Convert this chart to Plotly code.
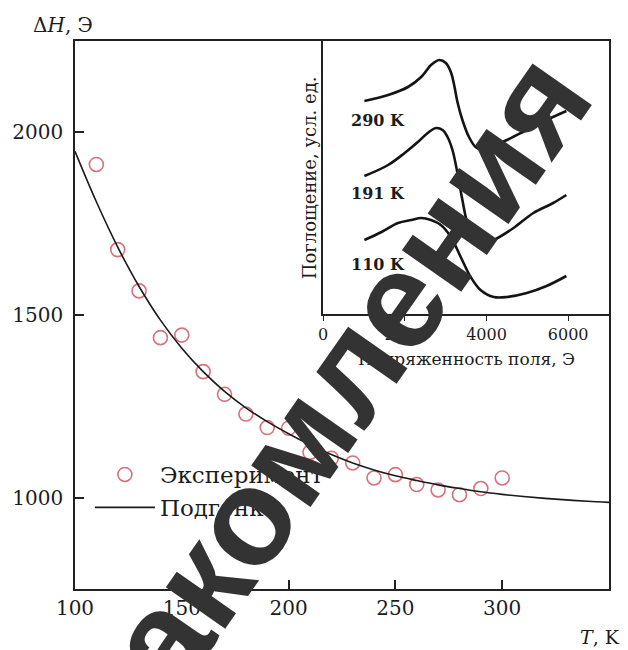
import plotly.graph_objects as go

# ---- main data ----
T_exp = [110, 120, 130, 140, 150, 160, 170, 180, 190, 200,
         210, 220, 230, 240, 250, 260, 270, 280, 290, 300]
dH_exp = [1912, 1679, 1566, 1438, 1445, 1345, 1283, 1229, 1192, 1190,
          1124, 1108, 1095, 1054, 1063, 1036, 1021, 1008, 1025, 1054]

T_fit = [100, 110, 120, 130, 140, 150, 160, 170, 180, 190, 200, 210, 220,
         230, 240, 250, 260, 270, 280, 290, 300, 310, 320, 330, 340, 350]
dH_fit = [1948, 1810, 1686, 1578, 1486, 1409, 1345, 1291, 1246, 1208, 1175, 1145, 1118,
          1095, 1076, 1060, 1047, 1035, 1025, 1016, 1009, 1003, 998, 994, 990, 987]

x_ticks = [100, 150, 200, 250, 300, 350]
y_ticks = [1000, 1500, 2000]

# ---- inset data (field in Oe, absorption in arbitrary units) ----
field_290 = [1010, 1592, 2077, 2400, 2642, 2844, 3006, 3127, 3208, 3289, 3410,
             3571, 3733, 3895, 4097, 4501, 4986, 5471, 5956]
abs_290 = [213, 219, 227, 237, 249, 254, 251, 242, 229, 212, 194,
           177, 167, 164, 167, 174, 184, 194, 203]

field_191 = [1010, 1592, 1996, 2319, 2561, 2763, 2925, 3046, 3167, 3289, 3410,
             3531, 3693, 3935, 4177, 4662, 5147, 5632, 5956]
abs_191 = [138, 149, 161, 172, 181, 186, 184, 177, 164, 141, 114,
           91, 76, 71, 74, 86, 101, 111, 119]

field_110 = [1010, 1430, 1834, 2158, 2400, 2642, 2884, 3127, 3369, 3612, 3854,
             4177, 4501, 4986, 5471, 5956]
abs_110 = [74, 82, 91, 94, 96, 94, 89, 77, 57, 37, 24,
           17, 17, 21, 28, 38]

inset_ticks = [0, 2000, 4000, 6000]
inset_labels = ["290 K", "191 K", "110 K"]
inset_label_y = [194, 121, 50]

# ---- geometry helpers (pixel -> paper) ----
W, H = 628, 650
L, R, TOP, BOT = 71, 609, 41, 589


def px(xp):
    return (xp - L) / (R - L)


def py(yp):
    return (BOT - yp) / (BOT - TOP)


SERIF = "DejaVu Serif"
TXT = "#1c1c1c"

fig = go.Figure()
fig.add_trace(go.Scatter(
    x=T_exp, y=dH_exp, mode="markers", name="Эксперимент",
    marker=dict(symbol="circle-open", size=14, color="#d9717b",
                line=dict(width=1.6))))
fig.add_trace(go.Scatter(
    x=T_fit, y=dH_fit, mode="lines", name="Подгонка",
    line=dict(color="#1a1a1a", width=1.6, shape="spline")))

for f, a in [(field_290, abs_290), (field_191, abs_191), (field_110, abs_110)]:
    fig.add_trace(go.Scatter(
        x=f, y=a, mode="lines", showlegend=False, xaxis="x2", yaxis="y2",
        line=dict(color="#141414", width=2.6, shape="spline")))

axis_common = dict(showline=True, mirror=True, linecolor="#222", linewidth=1.5,
                   showgrid=False, zeroline=False, tickcolor="#222",
                   tickfont=dict(family=SERIF, size=20, color=TXT))

fig.update_layout(
    width=W, height=H,
    margin=dict(l=L, r=W - R, t=TOP, b=H - BOT),
    paper_bgcolor="white", plot_bgcolor="white",
    xaxis=dict(range=[100, 350], domain=[0, 1], tickvals=x_ticks,
               ticks="inside", ticklen=9, tickwidth=1.5, **axis_common),
    yaxis=dict(range=[750, 2250], domain=[0, 1], tickvals=y_ticks,
               ticks="inside", ticklen=9, tickwidth=1.5, ticklabelstandoff=6,
               **axis_common),
    xaxis2=dict(range=[0, 7000], domain=[px(321), 1], anchor="y2",
                tickvals=inset_ticks, ticks="outside", ticklen=5, tickwidth=1.3,
                showline=True, mirror=True, linecolor="#222", linewidth=1.5,
                showgrid=False, zeroline=False, tickcolor="#222",
                tickfont=dict(family=SERIF, size=16, color=TXT)),
    yaxis2=dict(range=[0, 273], domain=[py(314), 1], anchor="x2",
                showticklabels=False, ticks="",
                showline=True, mirror=True, linecolor="#222", linewidth=1.5,
                showgrid=False, zeroline=False),
    legend=dict(x=px(86), y=py(453), xanchor="left", yanchor="top",
                bgcolor="rgba(0,0,0,0)", itemwidth=60,
                font=dict(family=SERIF, size=23, color=TXT),
                tracegroupgap=0),
    showlegend=True,
)

ann = [
    dict(text="Δ<i>H</i>, Э", x=px(27), y=py(25), xanchor="left", yanchor="middle",
         font=dict(family=SERIF, size=20, color=TXT)),
    dict(text="<i>T</i>, K", x=px(622), y=py(637), xanchor="right", yanchor="middle",
         font=dict(family=SERIF, size=19, color=TXT)),
    dict(text="Поглощение, усл. ед.", x=px(307), y=py(178), textangle=-90,
         xanchor="center", yanchor="middle",
         font=dict(family=SERIF, size=18, color=TXT)),
    dict(text="Напряженность поля, Э", x=px(465), y=py(359),
         xanchor="center", yanchor="middle",
         font=dict(family=SERIF, size=17, color=TXT)),
]
for a in ann:
    a.update(xref="paper", yref="paper", showarrow=False)
    fig.add_annotation(**a)

for lab, yv in zip(inset_labels, inset_label_y):
    fig.add_annotation(text="<b>" + lab + "</b>", x=630, y=yv, xref="x2", yref="y2",
                       xanchor="left", yanchor="middle", showarrow=False,
                       font=dict(family=SERIF, size=16, color=TXT))

# watermark
fig.add_annotation(text="<b>ознакомления</b>", x=px(278), y=py(466),
                   xref="paper", yref="paper", showarrow=False,
                   textangle=-55, xanchor="center", yanchor="middle",
                   font=dict(family="Liberation Sans", size=137, color="#333333"))

fig.write_html("out.html", post_script="document.body.style.margin='0';",
               config={"displayModeBar": False})
